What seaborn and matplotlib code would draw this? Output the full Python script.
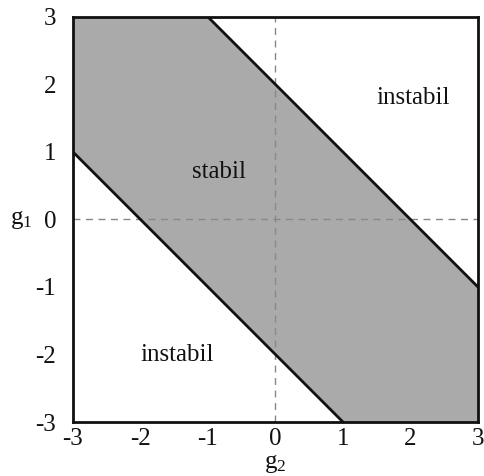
import numpy as np
import seaborn as sns
import matplotlib.pyplot as plt

# stability boundaries: g1 = 2 - g2 and g1 = -2 - g2
g2 = [-3, 3]
g1_upper = [5, -1]
g1_lower = [1, -5]
ticks = [-3, -2, -1, 0, 1, 2, 3]

sns.set_theme(style="white")
plt.rcParams["font.family"] = ["Liberation Serif", "DejaVu Serif"]
plt.rcParams["axes.unicode_minus"] = False
plt.rcParams["mathtext.fontset"] = "custom"
plt.rcParams["mathtext.rm"] = "Liberation Serif"
plt.rcParams["mathtext.it"] = "Liberation Serif"

fig = plt.figure(figsize=(4.85, 4.76), dpi=100)
ax = fig.add_axes([0.1505, 0.1134, 0.835, 0.851])

ax.fill_between(g2, g1_lower, g1_upper, color="#aaaaaa", lw=0, zorder=1)
sns.lineplot(x=g2, y=g1_upper, ax=ax, color="#111111", lw=2, zorder=3)
sns.lineplot(x=g2, y=g1_lower, ax=ax, color="#111111", lw=2, zorder=3)
ax.axhline(0, color="#888888", lw=1, ls=(0, (5, 4)), zorder=2)
ax.axvline(0, color="#888888", lw=1, ls=(0, (5, 4)), zorder=2)

ax.set_xlim(-3, 3)
ax.set_ylim(-3, 3)
ax.set_xticks(ticks)
ax.set_yticks(ticks)
ax.tick_params(direction="in", length=5, width=1, color="#111111",
               labelsize=18, labelcolor="#111111")
ax.tick_params(axis="y", pad=12)
ax.tick_params(axis="x", pad=4)
for s in ax.spines.values():
    s.set_linewidth(2)
    s.set_color("#111111")

ax.text(2.04, 1.8, "instabil", fontsize=18, ha="center", va="center", color="#111111")
ax.text(-0.84, 0.7, "stabil", fontsize=18, ha="center", va="center", color="#111111")
ax.text(-1.46, -2.01, "instabil", fontsize=18, ha="center", va="center", color="#111111")

ax.set_xlabel(r"g$_2$", fontsize=18, color="#111111", labelpad=2)
ax.set_ylabel(r"g$_1$", fontsize=18, color="#111111", rotation=0, labelpad=10, va="center")

fig.savefig("out.png", dpi=100)
